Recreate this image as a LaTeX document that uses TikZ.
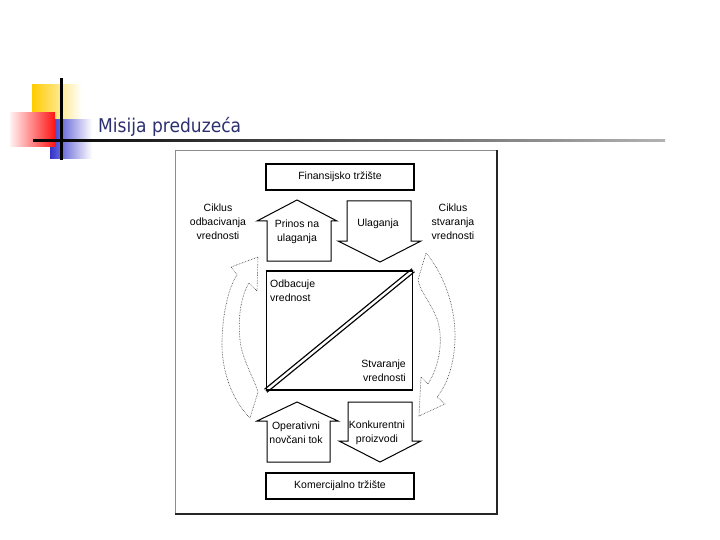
\documentclass[tikz,border=0pt]{standalone}
\usepackage{fontspec}
\setmainfont{Liberation Sans}
\newfontfamily\titlefont[FakeStretch=0.9]{DejaVu Sans}
\usepackage{tikz}
\usetikzlibrary{positioning}
\definecolor{tyellow}{RGB}{255,204,0}
\definecolor{tred}{RGB}{255,20,20}
\definecolor{tblue}{RGB}{51,51,204}
\definecolor{tnavy}{RGB}{45,48,110}
\pgfdeclarelayer{edgelayer}
\pgfdeclarelayer{nodelayer}
\pgfsetlayers{edgelayer,nodelayer,main}
\tikzstyle{market}=[rectangle,draw=black,line width=1.2pt,minimum width=148pt,minimum height=26pt,inner sep=0pt,font=\fontsize{10.5}{14}\selectfont]
\tikzstyle{core}=[rectangle,draw=black,line width=1.5pt,minimum width=146pt,minimum height=119pt]
\tikzstyle{flow}=[draw=black,line width=1pt,line join=miter]
\tikzstyle{lbl}=[align=center,inner sep=0pt,font=\fontsize{10.5}{14}\selectfont]
\tikzstyle{loopline}=[draw=black!80,densely dotted,line width=0.6pt]

\begin{document}
\begin{tikzpicture}[x=1pt,y=-1pt]
	\useasboundingbox (0,0) rectangle (720,540);
	% title bar
	\fill[left color=tyellow,middle color=tyellow,right color=white] (32,85) rectangle (82,121);
	\fill[left color=tblue,middle color=tblue,right color=white] (50,120) rectangle (92,159);
	\fill[left color=red!5,right color=tred] (10,113) rectangle (55,147);
	\fill[left color=black,right color=black!30] (33,140) rectangle (665,142);
	\fill[black] (60,78) rectangle (62.5,160);
	\node [anchor=base west,inner sep=0pt,text=tnavy,font=\titlefont\fontsize{19}{22}\selectfont] (title) at (98,133) {Misija preduzeća};
	% frame
	\draw [black!45,line width=0.6pt] (175,150) rectangle (497,514);
	\draw [black!85,line width=2pt] (497,150) -- (497,514) -- (175,514);
	\begin{pgfonlayer}{nodelayer}
		\node [style=market] (fin) at (340,177) {Finansijsko tržište};
		\node [style=core] (ctr) at (339.5,330.5) {};
		\node [style=market] (kom) at (340,486) {Komercijalno tržište};
		\node [style=lbl] (prinos) at (297,232) {Prinos na\\ulaganja};
		\node [style=lbl] (ulag) at (378,224) {Ulaganja};
		\node [style=lbl] (oper) at (296,433) {Operativni\\novčani tok};
		\node [style=lbl] (konk) at (377,433) {Konkurentni\\proizvodi};
		\node [style=lbl,align=left,anchor=west] (odb) at (270,291) {Odbacuje\\vrednost};
		\node [style=lbl,align=right,anchor=east] (stv) at (406,371) {Stvaranje\\vrednosti};
		\node [style=lbl] (cikodb) at (218,222) {Ciklus\\odbacivanja\\vrednosti};
		\node [style=lbl] (ciksta) at (453,222) {Ciklus\\stvaranja\\vrednosti};
	\end{pgfonlayer}
	\begin{pgfonlayer}{edgelayer}
		\draw [style=flow] (267,261) -- (267,221) -- (257,221) -- (297,200) -- (337,221) -- (331,221) -- (331,261) -- cycle;
		\draw [style=flow] (347,201) -- (411,201) -- (411,241) -- (421,241) -- (380,262) -- (338,241) -- (347,241) -- cycle;
		\draw [style=flow] (267,462) -- (267,421) -- (257,421) -- (297,402) -- (338,421) -- (330,421) -- (330,462) -- cycle;
		\draw [style=flow] (348,402) -- (412,402) -- (412,441) -- (421,441) -- (380,462) -- (339,441) -- (348,441) -- cycle;
		\draw [double=white,double distance=2.4pt,line width=1.3pt] (ctr.south west) -- (ctr.north east);
		\draw [style=loopline] (250,418) .. controls (232,400) and (221,370) .. (222,340) .. controls (223,310) and (229,287) .. (237,275) -- (231,267) -- (258,257) -- (257,291) -- (249,283) .. controls (240,298) and (238,320) .. (240,340) .. controls (242,360) and (255,380) .. (258,392) -- cycle;
		\draw [style=loopline] (426,253) .. controls (445,275) and (456,310) .. (455,340) .. controls (454,365) and (447,385) .. (437,397) -- (445,404) -- (419,416) -- (421,377) -- (428,384) .. controls (440,365) and (443,340) .. (438,322) .. controls (433,305) and (420,292) .. (418,280) -- cycle;
	\end{pgfonlayer}
\end{tikzpicture}
\end{document}
